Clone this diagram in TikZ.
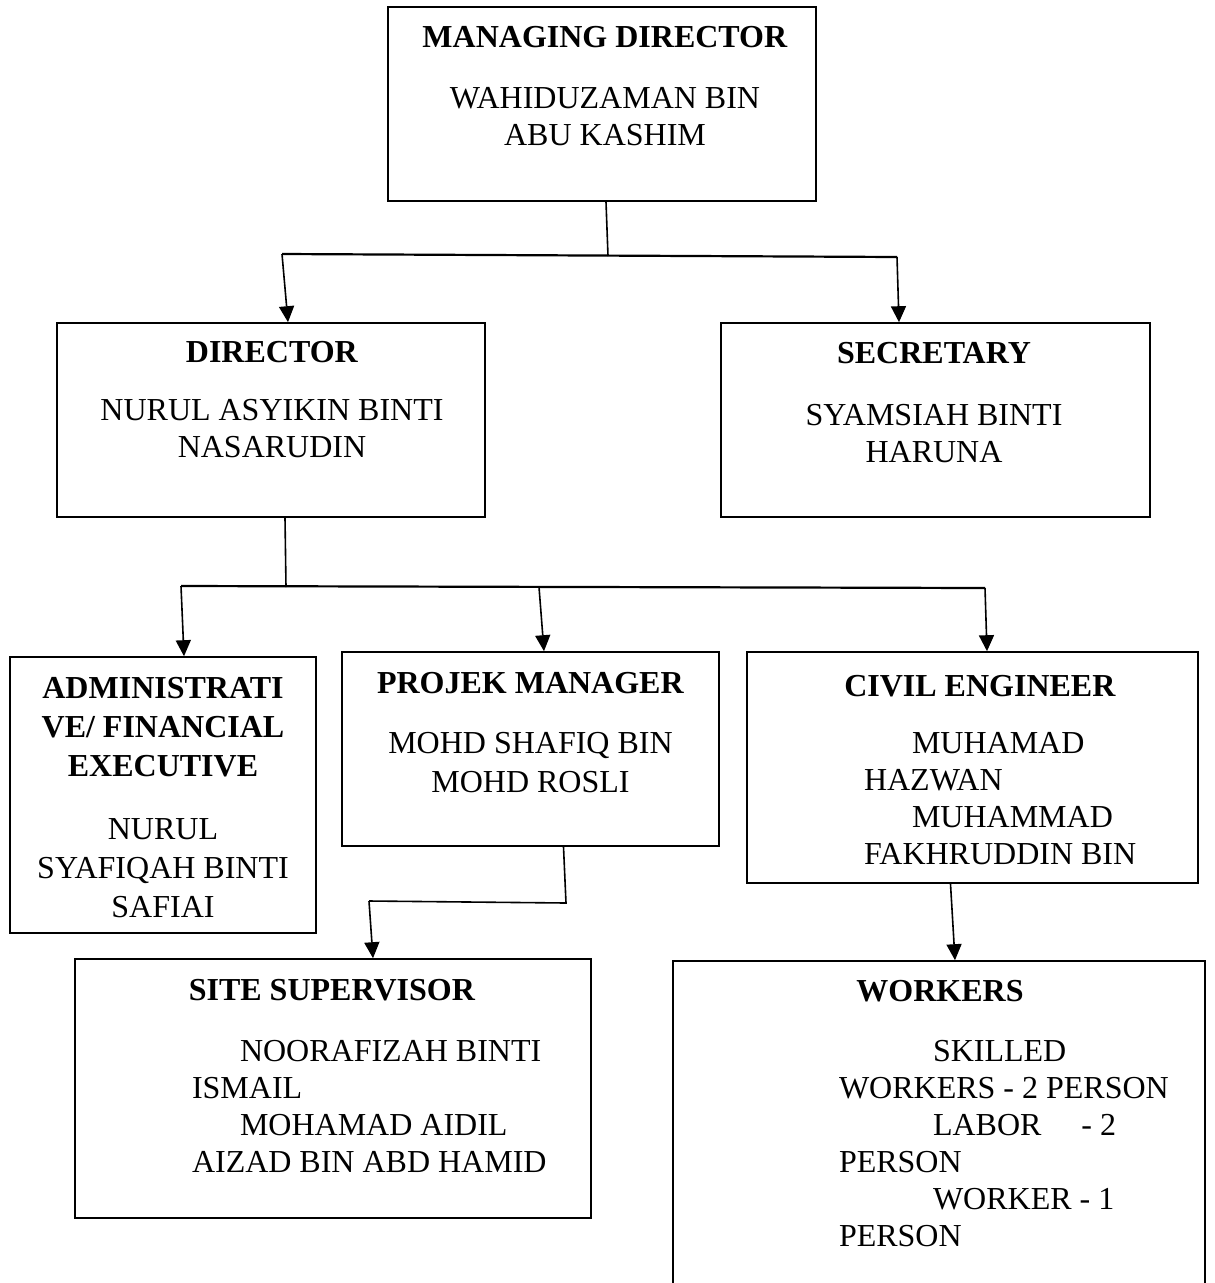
\documentclass[tikz,border=0pt]{standalone}
\usepackage{fontspec}
\setmainfont{Liberation Serif}
\usepackage{tikz}
\usetikzlibrary{positioning,arrows.meta}

\newcommand{\orgline}[3]{\makebox[#1][l]{\hspace*{#2}#3}}

\begin{document}
\begin{tikzpicture}[x=1pt,y=-1pt,
  box/.style={draw,line width=1.6pt,inner sep=0pt},
  txt/.style={align=center,inner sep=0pt,font=\fontsize{32}{37}\selectfont},
  link/.style={line width=1.6pt},
  bar/.style={line width=2.2pt},
  arr/.style={line width=1.6pt,-{Triangle[length=16pt,width=15pt]}}]
  \useasboundingbox (0,0) rectangle (1215,1283);
  \clip (0,0) rectangle (1215,1283);
  \fill[white] (0,0) rectangle (1215,1283);

  % boxes
  \node[box,minimum width=428pt,minimum height=194pt] (md)    at (602,104)     {};
  \node[box,minimum width=428pt,minimum height=194pt] (dir)   at (271,420)     {};
  \node[box,minimum width=429pt,minimum height=194pt] (sec)   at (935.5,420)   {};
  \node[box,minimum width=306pt,minimum height=276pt] (admin) at (163,795)     {};
  \node[box,minimum width=377pt,minimum height=194pt] (pm)    at (530.5,749)   {};
  \node[box,minimum width=451pt,minimum height=231pt] (civ)   at (972.5,767.5) {};
  \node[box,minimum width=516pt,minimum height=259pt] (site)  at (333,1088.5)  {};
  \node[box,minimum width=532pt,minimum height=339pt] (work)  at (939,1130.5)  {};

  % texts
  \node[txt,below=20pt of md.north,xshift=3pt] (mdtxt)
    {\textbf{MANAGING DIRECTOR}\\[24pt]WAHIDUZAMAN BIN\\ABU KASHIM};
  \node[txt,below=18.5pt of dir.north,xshift=1pt] (dirtxt)
    {\textbf{DIRECTOR}\\[21pt]NURUL ASYIKIN BINTI\\NASARUDIN};
  \node[txt,below=19.5pt of sec.north,xshift=-1.5pt] (sectxt)
    {\textbf{SECRETARY}\\[25pt]SYAMSIAH BINTI\\HARUNA};
  \node[txt,below=20.5pt of admin.north,font=\fontsize{32}{39.3}\selectfont] (admintxt)
    {\textbf{ADMINISTRATI}\\\textbf{VE/ FINANCIAL}\\\textbf{EXECUTIVE}\\[23pt]NURUL\\SYAFIQAH BINTI\\SAFIAI};
  \node[txt,below=20.5pt of pm.north,font=\fontsize{32}{39}\selectfont] (pmtxt)
    {\textbf{PROJEK MANAGER}\\[21pt]MOHD SHAFIQ BIN\\MOHD ROSLI};
  \node[txt,below=23.5pt of civ.north,xshift=7.5pt] (civtxt)
    {\textbf{CIVIL ENGINEER}\\[20pt]\orgline{232pt}{48pt}{MUHAMAD}\\
     \orgline{232pt}{0pt}{HAZWAN}\\\orgline{232pt}{48pt}{MUHAMMAD}\\
     \orgline{232pt}{0pt}{FAKHRUDDIN BIN}};
  \node[txt,below=20.5pt of site.north,xshift=-1pt] (sitetxt)
    {\textbf{SITE SUPERVISOR}\\[24pt]\orgline{280pt}{48pt}{NOORAFIZAH BINTI}\\
     \orgline{280pt}{0pt}{ISMAIL}\\\orgline{280pt}{48pt}{MOHAMAD AIDIL}\\
     \orgline{280pt}{0pt}{AIZAD BIN ABD HAMID}};
  \node[txt,below=19.5pt of work.north,xshift=1pt] (worktxt)
    {\textbf{WORKERS}\\[23pt]\orgline{202pt}{94pt}{SKILLED}\\
     \orgline{202pt}{0pt}{WORKERS - 2 PERSON}\\\orgline{202pt}{94pt}{LABOR\hspace*{40pt}- 2}\\
     \orgline{202pt}{0pt}{PERSON}\\\orgline{202pt}{94pt}{WORKER - 1}\\
     \orgline{202pt}{0pt}{PERSON}};

  % managing director -> director, secretary
  \coordinate (mdj)  at (608,256);
  \coordinate (barL) at (282,254);
  \coordinate (barR) at (897,257);
  \draw[link] ([xshift=4pt]md.south) -- (mdj);
  \draw[bar] (barL) -- (barR);
  \draw[arr] (barL) -- ([xshift=17pt]dir.north);
  \draw[arr] (barR) -- ([xshift=-36.5pt]sec.north);

  % director -> admin, projek manager, civil engineer
  \coordinate (dirj)  at (286,587);
  \coordinate (bar2L) at (181,586);
  \coordinate (bar2M) at (539,587);
  \coordinate (bar2R) at (985,588);
  \draw[link] ([xshift=14pt]dir.south) -- (dirj);
  \draw[bar] (bar2L) -- (bar2R);
  \draw[arr] (bar2L) -- ([xshift=21pt]admin.north);
  \draw[arr] (bar2M) -- ([xshift=13.5pt]pm.north);
  \draw[arr] (bar2R) -- ([xshift=14.5pt]civ.north);

  % projek manager -> site supervisor
  \coordinate (pmj)   at (566,903);
  \coordinate (bar3L) at (369,901);
  \draw[link] ([xshift=33pt]pm.south) -- (pmj) -- (bar3L);
  \draw[arr] (bar3L) -- ([xshift=40pt]site.north);

  % civil engineer -> workers
  \draw[arr] ([xshift=-22pt]civ.south) -- ([xshift=16pt]work.north);
\end{tikzpicture}
\end{document}
